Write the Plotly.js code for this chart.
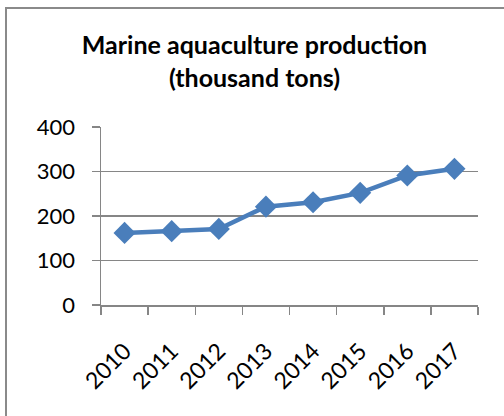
<!DOCTYPE html>
<html>
<head>
<meta charset="utf-8">
<script src="https://cdn.plot.ly/plotly-3.0.1.min.js"></script>
<style>
  html, body { margin: 0; padding: 0; background: #fff; overflow: hidden; }
  #chart { width: 504px; height: 416px; }
  #frame { position: absolute; left: 5px; top: 7px; width: 700px; height: 700px;
           border-left: 2px solid #8a8a8a; border-top: 2px solid #8a8a8a; pointer-events: none; }
</style>
</head>
<body>
<div id="chart"></div>
<div id="frame"></div>
<script>
const years = ['2010', '2011', '2012', '2013', '2014', '2015', '2016', '2017'];
const production = [162, 166, 171, 221, 231, 252, 291, 306];
const yTicks = [0, 100, 200, 300, 400];

const font = 'Lato, "Open Sans", sans-serif';

const trace = {
  type: 'scatter',
  mode: 'lines+markers',
  x: years,
  y: production,
  line: { color: '#4a7ebb', width: 4.5 },
  marker: { symbol: 'diamond', size: 17, color: '#4a7ebb' },
  hoverinfo: 'skip'
};

const layout = {
  width: 504,
  height: 416,
  margin: { l: 101, r: 26, t: 127, b: 111 },
  paper_bgcolor: '#ffffff',
  plot_bgcolor: '#ffffff',
  showlegend: false,
  title: {
    text: '<b>Marine aquaculture production</b><br><b>(thousand tons)</b>',
    font: { family: font, size: 25, color: '#000000' },
    x: 0.505, xanchor: 'center', xref: 'container',
    y: 0.87, yanchor: 'top', yref: 'container'
  },
  xaxis: {
    type: 'category',
    range: [-0.5, 7.5],
    tickangle: -45,
    ticks: 'outside',
    tickson: 'boundaries',
    ticklen: 8,
    tickcolor: '#868686',
    tickwidth: 1.5,
    ticklabelstandoff: 22,
    showline: true,
    linecolor: '#868686',
    linewidth: 1.5,
    showgrid: false,
    zeroline: false,
    tickfont: { family: font, size: 23, color: '#000000' },
    fixedrange: true
  },
  yaxis: {
    range: [0, 400],
    tickmode: 'array',
    tickvals: yTicks,
    ticktext: yTicks.map(String),
    ticks: 'outside',
    ticklen: 8,
    tickcolor: '#868686',
    tickwidth: 1.5,
    ticklabelstandoff: 12,
    showline: true,
    linecolor: '#868686',
    linewidth: 1.5,
    showgrid: true,
    gridcolor: '#868686',
    gridwidth: 1.5,
    zeroline: false,
    tickfont: { family: font, size: 22, color: '#000000' },
    fixedrange: true
  }
};

Plotly.newPlot('chart', [trace], layout, { displayModeBar: false, staticPlot: true });
</script>
</body>
</html>
